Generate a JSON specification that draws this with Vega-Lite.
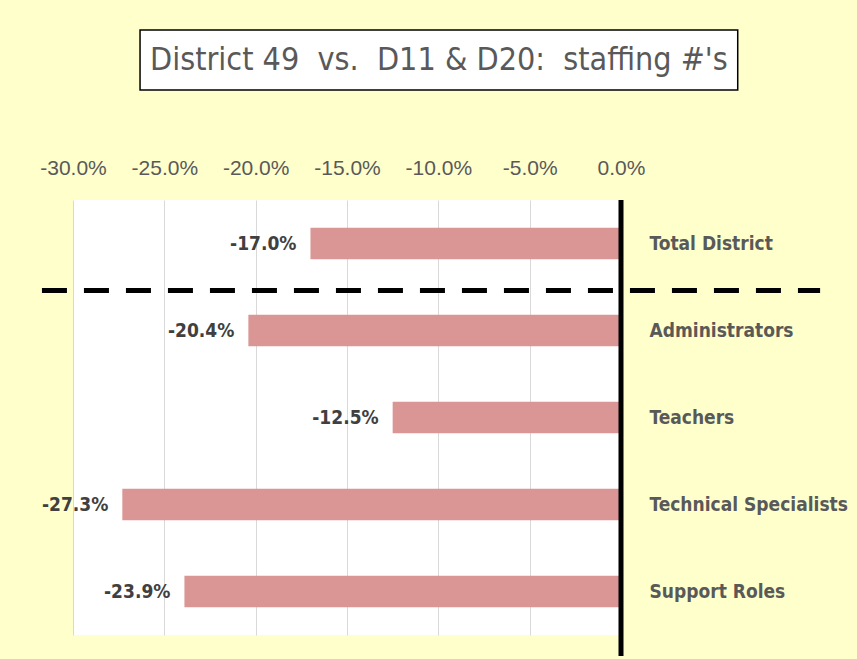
{
  "$schema": "https://vega.github.io/schema/vega-lite/v6.json",
  "background": "#FFFFCC",
  "padding": {"left": 39, "top": 29, "right": 10, "bottom": 3},
  "config": {"view": {"stroke": null}},
  "bounds": "flush",
  "spacing": 110,
  "datasets": {
    "staff": [
      {"role": "Total District", "diff": -0.170},
      {"role": "Administrators", "diff": -0.204},
      {"role": "Teachers", "diff": -0.125},
      {"role": "Technical Specialists", "diff": -0.273},
      {"role": "Support Roles", "diff": -0.239}
    ],
    "titlebox": [{"x": -0.2633, "x2": 0.0639, "cx": -0.0997, "label": "District 49\u00a0 vs.\u00a0 D11 & D20:\u00a0 staffing #'s"}],
    "divider": [{"role": "Total District", "start": -0.317, "end": 0.109}],
    "axisline": [{"x": 0, "top": 1, "bottom": -0.0483}]
  },
  "vconcat": [
    {
      "width": 548,
      "height": 60,
      "data": {"name": "titlebox"},
      "layer": [
        {
          "mark": {"type": "rect", "fill": "white", "stroke": "black", "strokeWidth": 1.5},
          "encoding": {
            "x": {"field": "x", "type": "quantitative", "scale": {"domain": [-0.3, 0], "nice": false, "zero": false}, "axis": null},
            "x2": {"field": "x2"}
          }
        },
        {
          "mark": {"type": "text", "fontSize": 32, "font": "DejaVu Sans Condensed, DejaVu Sans", "color": "#595959", "align": "center", "baseline": "middle"},
          "encoding": {
            "x": {"field": "cx", "type": "quantitative"},
            "text": {"field": "label"}
          }
        }
      ]
    },
    {
      "width": 548,
      "height": 435,
      "view": {"fill": "white"},
      "resolve": {"scale": {"y": "independent"}, "axis": {"y": "independent"}},
      "layer": [
        {
          "layer": [
            {
              "data": {"name": "staff"},
              "mark": {"type": "bar", "color": "#DA9694"},
              "encoding": {
                "y": {"field": "role", "type": "nominal", "sort": null,
                  "scale": {"paddingInner": 0.64, "paddingOuter": 0.32},
                  "axis": {"orient": "right", "title": null, "domain": false, "ticks": false, "labelPadding": 28, "labelLimit": 0,
                    "labelFont": "DejaVu Sans Condensed, DejaVu Sans", "labelFontSize": 19, "labelFontWeight": "bold", "labelColor": "#595959"}},
                "x": {"field": "diff", "type": "quantitative",
                  "scale": {"domain": [-0.3, 0], "nice": false, "zero": false},
                  "axis": {"orient": "top", "title": null, "values": [-0.3, -0.25, -0.2, -0.15, -0.1, -0.05, 0],
                    "labelExpr": "replace(format(datum.value, '.1%'), '\u2212', '-')",
                    "labelOverlap": false, "labelFlush": false,
                    "domain": false, "ticks": false, "grid": true, "gridColor": "#D9D9D9", "gridWidth": 1, "labelPadding": 22,
                    "labelFont": "Liberation Sans", "labelFontSize": 21, "labelColor": "#595959"}}
              }
            },
            {
              "data": {"name": "staff"},
              "mark": {"type": "text", "align": "right", "baseline": "middle", "dx": -14, "font": "DejaVu Sans Condensed, DejaVu Sans", "fontSize": 19, "fontWeight": "bold", "color": "#404040",
                "text": {"expr": "replace(format(datum.diff, '.1%'), '\u2212', '-')"}},
              "encoding": {
                "y": {"field": "role", "type": "nominal", "sort": null},
                "x": {"field": "diff", "type": "quantitative"}
              }
            },
            {
              "data": {"name": "divider"},
              "mark": {"type": "rule", "color": "black", "strokeWidth": 5, "strokeDash": [25, 17], "yOffset": 47},
              "encoding": {
                "y": {"field": "role", "type": "nominal", "sort": null},
                "x": {"field": "start", "type": "quantitative"},
                "x2": {"field": "end"}
              }
            }
          ]
        },
        {
          "data": {"name": "axisline"},
          "mark": {"type": "rule", "color": "black", "strokeWidth": 5},
          "encoding": {
            "x": {"field": "x", "type": "quantitative"},
            "y": {"field": "top", "type": "quantitative", "scale": {"domain": [0, 1], "nice": false, "zero": false}, "axis": null},
            "y2": {"field": "bottom"}
          }
        }
      ]
    }
  ]
}
